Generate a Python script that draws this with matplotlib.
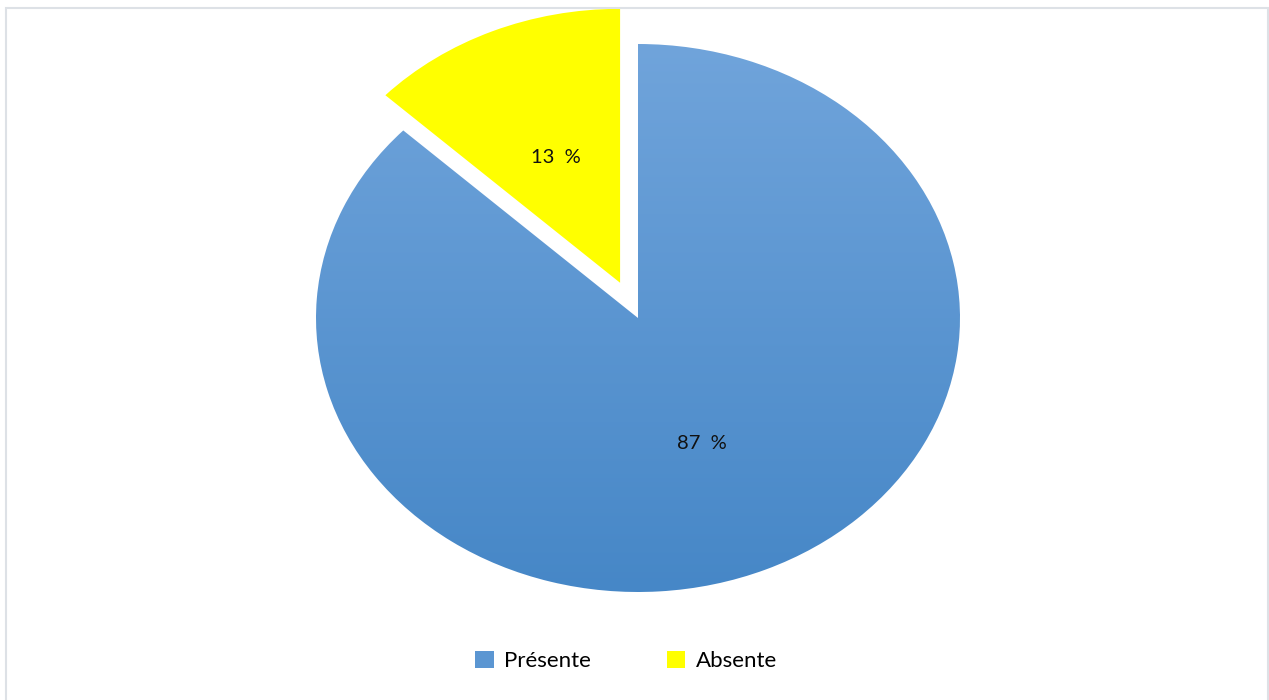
import numpy as np
import matplotlib
matplotlib.use("Agg")
import matplotlib.pyplot as plt
from matplotlib.patches import Patch, Rectangle
from matplotlib.colors import LinearSegmentedColormap

categories = ["Présente", "Absente"]
values = [87, 13]
explode = [0, 0.14]

plt.rcParams["font.family"] = ["Lato", "DejaVu Sans"]

W, H = 1269, 700
fig = plt.figure(figsize=(W / 100, H / 100), dpi=100)
ax = fig.add_axes([0, 0, 1, 1])

# pie centre and radii in pixels (ellipse: wider than tall)
cx, cy, rx, ry = 638, H - 318, 322, 274

wedges, texts, autotexts = ax.pie(
    values, explode=explode, startangle=90, counterclock=False,
    colors=["none", "#ffff00"], autopct=lambda p: "%d  %%" % round(p),
    pctdistance=0.5, wedgeprops=dict(linewidth=0),
    textprops=dict(fontsize=14.5, color="#111111"),
)
ax.set_aspect("auto")
ax.axis("off")

# vertical gradient for the big slice
blue = LinearSegmentedColormap.from_list("blue", ["#4687c7", "#70a4db"])
grad = np.linspace(0, 1, 256).reshape(-1, 1)
img = ax.imshow(grad, cmap=blue, origin="lower", extent=(-1, 1, -1, 1),
                aspect="auto", interpolation="bilinear", zorder=0.5)
img.set_clip_path(wedges[0])
ax.set_xlim(-cx / rx, (W - cx) / rx)
ax.set_ylim(-cy / ry, (H - cy) / ry)

# light chart border
fig.patches.append(Rectangle((6.5 / W, -0.01), (1267.5 - 6.5) / W, 1 - 7.5 / H + 0.01,
                             transform=fig.transFigure, fill=False,
                             edgecolor="#dde1e6", linewidth=1.5))

handles = [Patch(facecolor="#5b96d2", edgecolor="none"),
           Patch(facecolor="#ffff00", edgecolor="none")]
fig.legend(handles, categories, loc="center", bbox_to_anchor=(626 / W, 1 - 661 / H),
           ncol=2, frameon=False, fontsize=16, handlelength=0.85, handleheight=0.8,
           handletextpad=0.45, columnspacing=3.4)

fig.savefig("out.png", dpi=100)
